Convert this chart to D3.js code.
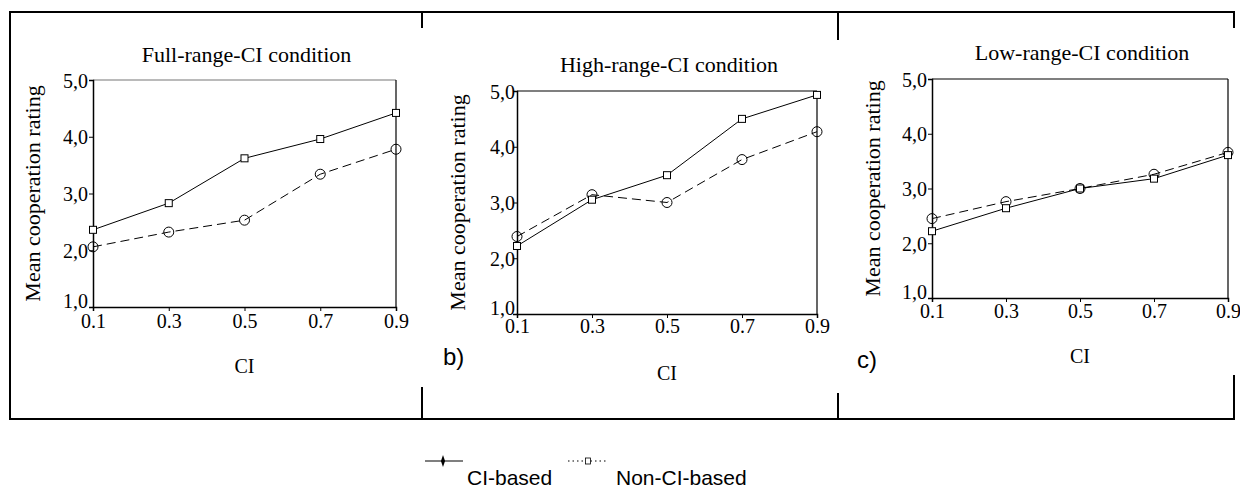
<!DOCTYPE html>
<html>
<head>
<meta charset="utf-8">
<script src="https://cdn.jsdelivr.net/npm/d3@7"></script>
<style>
  body { margin: 0; background: #fff; }
  svg { display: block; }
</style>
</head>
<body>
<div id="chart"></div>
<script>
// CI levels on the x axis
const ciLevels = [0.1, 0.3, 0.5, 0.7, 0.9];
const yTicks = [1, 2, 3, 4, 5];

// mean cooperation ratings
const fullSolid  = [2.36, 2.83, 3.62, 3.96, 4.42];
const fullDashed = [2.06, 2.32, 2.53, 3.34, 3.78];
const highSolid  = [2.22, 3.05, 3.49, 4.50, 4.93];
const highDashed = [2.39, 3.14, 3.00, 3.77, 4.27];
const lowSolid   = [2.22, 2.64, 3.00, 3.18, 3.61];
const lowDashed  = [2.45, 2.76, 3.00, 3.26, 3.66];

const titles = ["Full-range-CI condition", "High-range-CI condition", "Low-range-CI condition"];
const seriesNames = ["CI-based", "Non-CI-based"];

const W = 1240, H = 491;
const svg = d3.select("#chart").append("svg")
    .attr("width", W)
    .attr("height", H);

const serif = "'Liberation Serif', 'Times New Roman', serif";
const sans = "'Liberation Sans', Arial, sans-serif";

// outer frame with the panel dividers
const frame = svg.append("g").attr("stroke", "#000").attr("stroke-width", 2).attr("fill", "none");
frame.append("line").attr("x1", 10).attr("x2", 1235).attr("y1", 12).attr("y2", 12);
frame.append("line").attr("x1", 10).attr("x2", 1235).attr("y1", 419).attr("y2", 419);
frame.append("line").attr("x1", 10).attr("x2", 10).attr("y1", 11).attr("y2", 420);
[[422, 28, 387], [838, 40, 393], [1234, 28, 375]].forEach(([x, t, b]) => {
  frame.append("line").attr("x1", x).attr("x2", x).attr("y1", 11).attr("y2", t);
  frame.append("line").attr("x1", x).attr("x2", x).attr("y1", b).attr("y2", 420);
});

// panel layout (pixel boxes)
const panels = [
  { l: 93,  r: 396,  t: 80, b: 307, titleY: 62, ylabX: 40,  xlabY: 373, tickY: 21, lblX: -5, solid: fullSolid, dashed: fullDashed, tag: null, topColor: "#777" },
  { l: 517, r: 817,  t: 91, b: 314, titleY: 72, ylabX: 465, xlabY: 380, tickY: 19, lblX: -2, solid: highSolid, dashed: highDashed, tag: { text: "b)", x: 443, y: 365 }, topColor: "#000" },
  { l: 932, r: 1228, t: 79, b: 298, titleY: 60, ylabX: 880, xlabY: 363, tickY: 20, lblX: -5, solid: lowSolid,  dashed: lowDashed,  tag: { text: "c)", x: 857, y: 368 }, topColor: "#000" }
];

panels.forEach((p, i) => {
  const x = d3.scaleLinear().domain([0.1, 0.9]).range([p.l, p.r]);
  const y = d3.scaleLinear().domain([1, 5]).range([p.b, p.t]);
  const g = svg.append("g");

  // frame top/right
  g.append("line").attr("x1", p.l).attr("x2", p.r).attr("y1", p.t).attr("y2", p.t)
    .attr("stroke", p.topColor).attr("stroke-width", 1.2);
  g.append("line").attr("x1", p.r).attr("x2", p.r).attr("y1", p.t).attr("y2", p.b)
    .attr("stroke", "#000").attr("stroke-width", 1.2);

  // y axis
  const ya = g.append("g").attr("transform", `translate(${p.l},0)`)
    .call(d3.axisLeft(y).tickValues(yTicks).tickSize(4).tickPadding(0)
      .tickFormat(d => d.toFixed(1).replace(".", ",")));
  ya.select(".domain").attr("stroke-width", 1.5);
  ya.selectAll("text").attr("font-family", serif).attr("font-size", 20).attr("fill", "#000")
    .attr("x", p.lblX).attr("dy", "0.36em");
  // lowest label sits just above the x axis, as in the original
  ya.selectAll(".tick").filter(d => d === 1).select("text").attr("dy", "0.36em").attr("y", -7);

  // x axis
  const xa = g.append("g").attr("transform", `translate(0,${p.b})`)
    .call(d3.axisBottom(x).tickValues(ciLevels).tickSize(4).tickFormat(d3.format(".1f")));
  xa.select(".domain").attr("stroke-width", 1.5);
  xa.selectAll("text").attr("font-family", serif).attr("font-size", 20).attr("fill", "#000")
    .attr("y", p.tickY).attr("dy", 0);
  xa.selectAll(".tick line, .domain").attr("stroke", "#000");
  ya.selectAll(".tick line, .domain").attr("stroke", "#000");

  // titles and labels
  g.append("text").attr("x", (p.l + p.r) / 2 + 2).attr("y", p.titleY)
    .attr("text-anchor", "middle").attr("font-family", serif).attr("font-size", 22)
    .text(titles[i]);
  g.append("text").attr("transform", `translate(${p.ylabX},${(p.t + p.b) / 2}) rotate(-90)`)
    .attr("text-anchor", "middle").attr("font-family", serif).attr("font-size", 22)
    .text("Mean cooperation rating");
  g.append("text").attr("x", (p.l + p.r) / 2).attr("y", p.xlabY)
    .attr("text-anchor", "middle").attr("font-family", serif).attr("font-size", 20)
    .text("CI");
  if (p.tag) {
    g.append("text").attr("x", p.tag.x).attr("y", p.tag.y)
      .attr("font-family", sans).attr("font-size", 24).text(p.tag.text);
  }

  const line = d3.line().x((d, j) => x(ciLevels[j])).y(d => y(d));

  // dashed series with circles
  g.append("path").datum(p.dashed).attr("d", line)
    .attr("fill", "none").attr("stroke", "#000").attr("stroke-width", 1)
    .attr("stroke-dasharray", "9,5");
  g.selectAll(".circ").data(p.dashed).join("circle")
    .attr("cx", (d, j) => x(ciLevels[j])).attr("cy", d => y(d)).attr("r", 5)
    .attr("fill", "none").attr("stroke", "#000").attr("stroke-width", 1);

  // solid series with squares
  g.append("path").datum(p.solid).attr("d", line)
    .attr("fill", "none").attr("stroke", "#000").attr("stroke-width", 1);
  g.selectAll(".sq").data(p.solid).join("rect")
    .attr("x", (d, j) => x(ciLevels[j]) - 3.5).attr("y", d => y(d) - 3.5)
    .attr("width", 7).attr("height", 7)
    .attr("fill", "#fff").attr("stroke", "#000").attr("stroke-width", 1);
});

// legend
const lg = svg.append("g");
lg.append("line").attr("x1", 425).attr("x2", 463).attr("y1", 461).attr("y2", 461)
  .attr("stroke", "#000").attr("stroke-width", 1.2);
lg.append("path").attr("d", d3.symbol(d3.symbolDiamond, 30)())
  .attr("transform", "translate(443,461) scale(0.7,1.2)").attr("fill", "#000");
lg.append("text").attr("x", 467).attr("y", 485).attr("font-family", sans).attr("font-size", 21)
  .text(seriesNames[0]);
lg.append("line").attr("x1", 568).attr("x2", 606).attr("y1", 461).attr("y2", 461)
  .attr("stroke", "#000").attr("stroke-width", 1.2).attr("stroke-dasharray", "1.5,3");
lg.append("rect").attr("x", 585.5).attr("y", 458).attr("width", 5).attr("height", 6)
  .attr("fill", "#fff").attr("stroke", "#000").attr("stroke-width", 0.8);
lg.append("text").attr("x", 616).attr("y", 485).attr("font-family", sans).attr("font-size", 21)
  .text(seriesNames[1]);
</script>
</body>
</html>
